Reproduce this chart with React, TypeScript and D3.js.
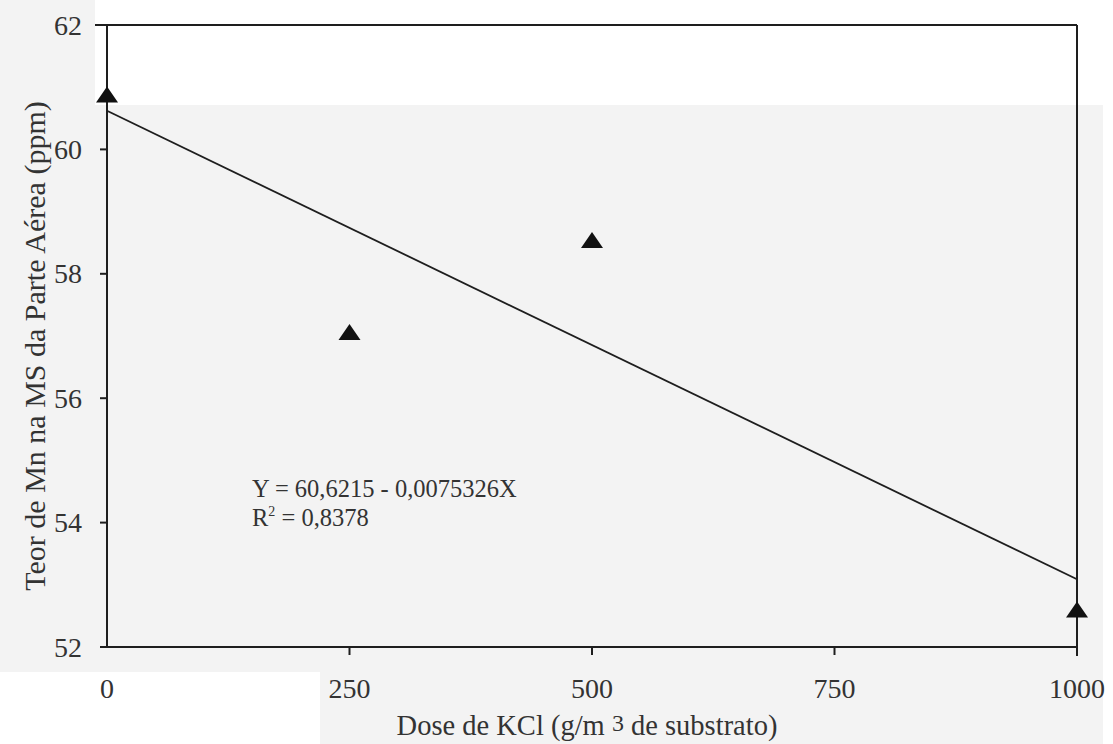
import React from "react";
import * as d3 from "d3";

// KCl dose (g/m³ of substrate) and measured Mn content (ppm)
const doses = [0, 250, 500, 1000];
const mnContent = [60.84, 57.02, 58.5, 52.56];

// Fitted linear regression
const intercept = 60.6215;
const slope = -0.0075326;
const equationLabel = "Y = 60,6215 - 0,0075326X";
const r2Label = "0,8378";

const xTicks = [0, 250, 500, 750, 1000];
const yTicks = [52, 54, 56, 58, 60, 62];

const W = 1113;
const H = 744;
const margin = { left: 107, right: 1077, top: 25, bottom: 647 };

export default function App() {
  const x = d3.scaleLinear().domain([0, 1000]).range([margin.left, margin.right]);
  const y = d3.scaleLinear().domain([52, 62]).range([margin.bottom, margin.top]);

  const fit = d3
    .line<number>()
    .x((d) => x(d))
    .y((d) => y(intercept + slope * d));

  const tri = (cx: number, cy: number) => {
    const w = 11;
    const h = 16;
    return `M${cx},${cy - (2 * h) / 3}L${cx + w},${cy + h / 3}L${cx - w},${cy + h / 3}Z`;
  };

  const ink = "#1e1e1e";
  const textInk = "#333";
  const font = "Liberation Serif, DejaVu Serif, serif";

  return (
    <svg
      width={W}
      height={H}
      style={{ position: "absolute", left: 0, top: 0, display: "block", fontFamily: font }}
    >
      <rect x={0} y={0} width={W} height={H} fill="#ffffff" />
      <rect x={0} y={0} width={1103} height={H} fill="#f3f3f3" />
      <rect x={95} y={0} width={1008} height={105} fill="#ffffff" />
      <rect x={0} y={672} width={320} height={72} fill="#ffffff" />

      {/* frame: left axis, bottom axis, top and right borders */}
      <line x1={margin.left} x2={margin.left} y1={margin.top} y2={margin.bottom} stroke={ink} strokeWidth={2} />
      <line x1={95} x2={margin.right} y1={margin.top} y2={margin.top} stroke={ink} strokeWidth={2} />
      <line x1={margin.right} x2={margin.right} y1={margin.top} y2={margin.bottom + 9} stroke={ink} strokeWidth={2} />
      <line x1={margin.left - 7} x2={margin.right} y1={margin.bottom} y2={margin.bottom} stroke={ink} strokeWidth={2} />

      {/* y ticks */}
      {yTicks.map((t) => (
        <g key={`y${t}`}>
          <line x1={margin.left - 7} x2={margin.left} y1={y(t)} y2={y(t)} stroke={ink} strokeWidth={2} />
          <text x={82} y={y(t)} dy="0.34em" textAnchor="end" fontSize={28} fill={textInk}>
            {t}
          </text>
        </g>
      ))}

      {/* x ticks */}
      {xTicks.map((t) => (
        <g key={`x${t}`}>
          {t > 0 && (
            <line x1={x(t)} x2={x(t)} y1={margin.bottom} y2={margin.bottom + 8} stroke={ink} strokeWidth={2} />
          )}
          <text x={x(t)} y={698} textAnchor="middle" fontSize={28} fill={textInk}>
            {t}
          </text>
        </g>
      ))}

      {/* regression line */}
      <path d={fit([0, 1000]) ?? ""} fill="none" stroke={ink} strokeWidth={1.8} />

      {/* observed points */}
      {doses.map((d, i) => (
        <path key={`p${i}`} d={tri(x(d), y(mnContent[i]))} fill="#111" />
      ))}

      {/* equation */}
      <text x={252} y={497} fontSize={24.5} fill={textInk}>
        {equationLabel}
      </text>
      <text x={252} y={526} fontSize={24.5} fill={textInk}>
        R<tspan dy={-10} fontSize={14}>2</tspan>
        <tspan dy={10}> = {r2Label}</tspan>
      </text>

      {/* axis titles */}
      <text x={587} y={735} textAnchor="middle" fontSize={28.5} fill={textInk}>
        Dose de KCl (g/m <tspan fontSize={24} dy={-4}>3</tspan>
        <tspan dy={4}> de substrato)</tspan>
      </text>
      <text
        transform={`translate(45,346) rotate(-90)`}
        textAnchor="middle"
        fontSize={30}
        fill={textInk}
      >
        Teor de Mn na MS da Parte Aérea (ppm)
      </text>
    </svg>
  );
}
